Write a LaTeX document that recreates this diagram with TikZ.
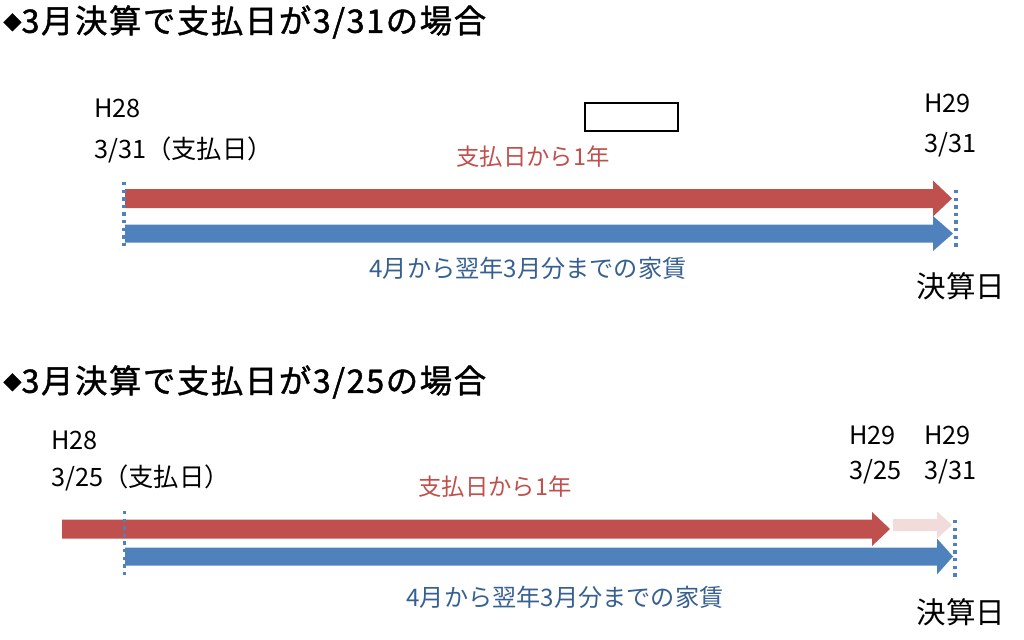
\documentclass[tikz,border=0pt]{standalone}
\usepackage{fontspec}
\newfontfamily\cjk{Noto Sans CJK JP}
\newfontfamily\cjkhead[FakeBold=1.3, LetterSpace=5]{Noto Sans CJK JP}
\usetikzlibrary{positioning}
\definecolor{barred}{RGB}{192,80,77}
\definecolor{barblue}{RGB}{79,129,189}
\definecolor{barpink}{RGB}{242,220,219}
\definecolor{txtblue}{RGB}{55,96,146}

\tikzset{
  heading/.style={anchor=west, inner sep=0pt, font=\cjkhead\fontsize{23}{23}\selectfont},
  datelabel/.style={anchor=west, inner sep=0pt, font=\cjk\fontsize{18}{18}\selectfont},
  redlabel/.style={inner sep=0pt, text=barred, font=\cjk\fontsize{16.6}{16.6}\selectfont},
  bluelabel/.style={inner sep=0pt, text=txtblue, font=\cjk\fontsize{17.2}{17.2}\selectfont},
  daylabel/.style={inner sep=0pt, font=\cjk\fontsize{21}{21}\selectfont},
  mark line/.style={barblue, line width=2.6pt, dash pattern=on 2.4pt off 3pt}
}
\newcommand{\headmark}{\raisebox{2.5pt}{\fontsize{13}{13}\selectfont ◆}}

\begin{document}
\begin{tikzpicture}[x=0.025cm, y=-0.025cm]
  \useasboundingbox (0,0) rectangle (1024,639);

  % case 1: paid on 3/31
  \node[heading] (title1) at (3,22) {\headmark3月決算で支払日が3/31の場合};
  \node[datelabel] (h28a) at (94,108) {H28};
  \node[datelabel] (paya) at (94,150) {3/31（支払日）};
  \node[datelabel] (h29a) at (924,103) {H29};
  \node[datelabel] (enda) at (924,145) {3/31};
  \draw[line width=1.4pt] (585,103) rectangle (678,131);
  \node[redlabel] (yeara) at (533,157) {支払日から1年};

  \fill[barred] (125,189) -- (933,189) -- (933,180.5) -- (952,198.5)
    -- (933,216.5) -- (933,208) -- (125,208) -- cycle;
  \fill[barblue] (125,224.5) -- (933,224.5) -- (933,216) -- (953,233.5)
    -- (933,251) -- (933,242.5) -- (125,242.5) -- cycle;
  \draw[mark line] (124,182) -- (124,248);
  \draw[mark line] (956,190) -- (956,249);

  \node[bluelabel] (renta) at (528,268) {4月から翌年3月分までの家賃};
  \node[daylabel] (closea) at (961,286) {決算日};

  % case 2: paid on 3/25
  \node[heading] (title2) at (3,382) {\headmark3月決算で支払日が3/25の場合};
  \node[datelabel] (h28b) at (51,440) {H28};
  \node[datelabel] (payb) at (51,478) {3/25（支払日）};
  \node[datelabel] (h29b) at (849,435) {H29};
  \node[datelabel] (dueb) at (849,472) {3/25};
  \node[datelabel] (h29c) at (924,435) {H29};
  \node[datelabel] (endb) at (924,472) {3/31};
  \node[redlabel] (yearb) at (495,487) {支払日から1年};

  \fill[barred] (62,519.5) -- (872,519.5) -- (872,512) -- (890,529)
    -- (872,546) -- (872,538.5) -- (62,538.5) -- cycle;
  \fill[barpink] (893,519) -- (937,519) -- (937,511.5) -- (952,525)
    -- (937,538.5) -- (937,531) -- (893,531) -- cycle;
  \fill[barblue] (125,547.5) -- (937,547.5) -- (937,538.5) -- (953,556.5)
    -- (937,574.5) -- (937,565.5) -- (125,565.5) -- cycle;
  \draw[mark line] (124.5,511) -- (124.5,578);
  \draw[mark line] (955,520) -- (955,579);

  \node[bluelabel] (rentb) at (565,597) {4月から翌年3月分までの家賃};
  \node[daylabel] (closeb) at (961,612) {決算日};
\end{tikzpicture}
\end{document}
